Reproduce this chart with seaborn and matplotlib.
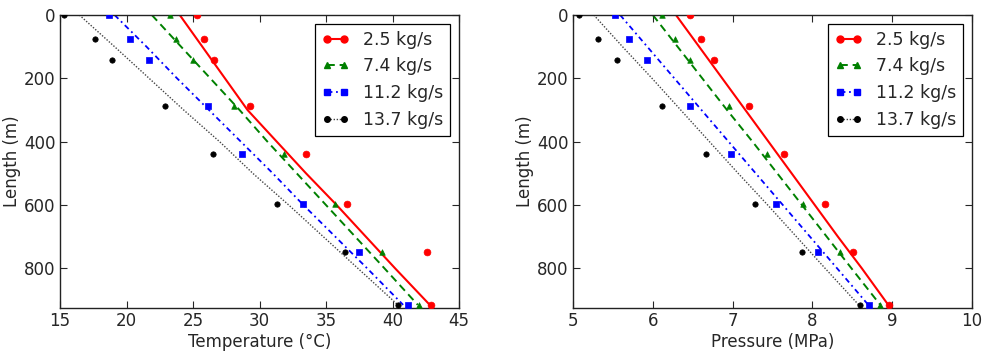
import matplotlib
matplotlib.use("Agg")
import matplotlib.pyplot as plt
from matplotlib.lines import Line2D
import seaborn as sns

# measured depths (m)
depth = [0, 77, 142, 287, 438, 596, 748, 915]
# model depths (m)
model_depth = [0, 100, 200, 300, 400, 500, 600, 700, 800, 915]

labels = ["2.5 kg/s", "7.4 kg/s", "11.2 kg/s", "13.7 kg/s"]

# temperature (°C) - measured
temp_25 = [25.3, 25.8, 26.6, 29.3, 33.5, 36.6, 42.6, 42.9]
temp_74 = [23.3, 23.7, 25.0, 28.1, 31.85, 35.65, 39.2, 42.0]
temp_112 = [18.7, 20.25, 21.7, 26.1, 28.7, 33.3, 37.5, 41.2]
temp_137 = [15.3, 17.6, 18.9, 22.9, 26.5, 31.3, 36.4, 40.4]
# temperature (°C) - model
temp_25_m = [24.0, 25.7, 27.4, 29.1, 31.3, 33.5, 35.8, 38.0, 40.2, 42.8]
temp_74_m = [21.9, 24.1, 26.3, 28.5, 30.6, 32.8, 35.0, 37.2, 39.4, 41.9]
temp_112_m = [19.1, 21.5, 23.8, 26.2, 28.6, 31.0, 33.3, 35.7, 38.1, 40.8]
temp_137_m = [16.45, 19.1, 21.7, 24.3, 27.0, 29.5, 32.2, 34.8, 37.4, 40.4]

# pressure (MPa) - measured
pres_25 = [6.46, 6.60, 6.77, 7.20, 7.64, 8.16, 8.51, 8.96]
pres_74 = [6.11, 6.28, 6.46, 6.96, 7.43, 7.88, 8.34, 8.85]
pres_112 = [5.53, 5.70, 5.93, 6.47, 6.98, 7.54, 8.07, 8.71]
pres_137 = [5.07, 5.31, 5.55, 6.11, 6.67, 7.28, 7.87, 8.60]
# pressure (MPa) - model
pres_25_m = [6.29, 6.58, 6.87, 7.16, 7.45, 7.74, 8.03, 8.32, 8.62, 8.95]
pres_74_m = [6.0, 6.31, 6.62, 6.93, 7.25, 7.56, 7.87, 8.18, 8.49, 8.85]
pres_112_m = [5.59, 5.93, 6.27, 6.61, 6.95, 7.29, 7.63, 7.97, 8.31, 8.70]
pres_137_m = [5.26, 5.62, 5.99, 6.35, 6.71, 7.07, 7.44, 7.80, 8.16, 8.58]

colors = ["#ff0000", "#008000", "#0000ff", "#000000"]
line_colors = ["#ff0000", "#008000", "#0000ff", "#444444"]
markers = ["o", "^", "s", "o"]
msizes = [24, 16, 22, 15]
styles = ["-", (0, (4, 2.5)), (0, (3, 2, 1, 2)), (0, (1, 1.2))]
widths = [1.5, 1.4, 1.3, 1.0]

sns.set_style("ticks")
plt.rcParams["font.family"] = ["DejaVu Sans"]
plt.rcParams["xtick.direction"] = "in"
plt.rcParams["ytick.direction"] = "in"
plt.rcParams["xtick.top"] = True
plt.rcParams["ytick.right"] = True
plt.rcParams["font.size"] = 12

fig = plt.figure(figsize=(9.89, 3.55), dpi=100)
ax1 = fig.add_axes([0.0607, 0.1324, 0.4034, 0.8254])
ax2 = fig.add_axes([0.5794, 0.1324, 0.4034, 0.8254])


def draw(ax, meas, model, xlim, xlabel, xticks):
    for i in range(4):
        sns.lineplot(x=model[i], y=model_depth, orient="y", ax=ax,
                     color=line_colors[i], linestyle=styles[i],
                     linewidth=widths[i])
        sns.scatterplot(x=meas[i], y=depth, ax=ax, color=colors[i],
                        marker=markers[i], s=msizes[i], edgecolor=colors[i],
                        linewidth=0.5, zorder=3)
    ax.set_xlim(*xlim)
    ax.set_ylim(925, 0)
    ax.set_xticks(xticks)
    ax.set_yticks([0, 200, 400, 600, 800])
    ax.set_xlabel(xlabel, fontsize=12, labelpad=2)
    ax.set_ylabel("Length (m)", fontsize=12, labelpad=2)
    ax.tick_params(labelsize=12, length=5, width=0.8, pad=3)
    for sp in ax.spines.values():
        sp.set_linewidth(1.0)
        sp.set_color("#222222")
    handles = [Line2D([0], [0], color=line_colors[i], linestyle=styles[i],
                      linewidth=widths[i], marker=markers[i],
                      markerfacecolor=colors[i], markeredgecolor=colors[i],
                      markersize=[5, 4.5, 5, 4][i]) for i in range(4)]
    leg = ax.legend(handles, labels, loc="upper right", numpoints=2,
                    fontsize=12.5, handlelength=1.6, fancybox=False,
                    framealpha=1, edgecolor="black")
    leg.get_frame().set_linewidth(0.9)


draw(ax1, [temp_25, temp_74, temp_112, temp_137],
     [temp_25_m, temp_74_m, temp_112_m, temp_137_m],
     (15, 45), "Temperature (°C)", [15, 20, 25, 30, 35, 40, 45])
draw(ax2, [pres_25, pres_74, pres_112, pres_137],
     [pres_25_m, pres_74_m, pres_112_m, pres_137_m],
     (5, 10), "Pressure (MPa)", [5, 6, 7, 8, 9, 10])

fig.savefig("out.png", dpi=100)
